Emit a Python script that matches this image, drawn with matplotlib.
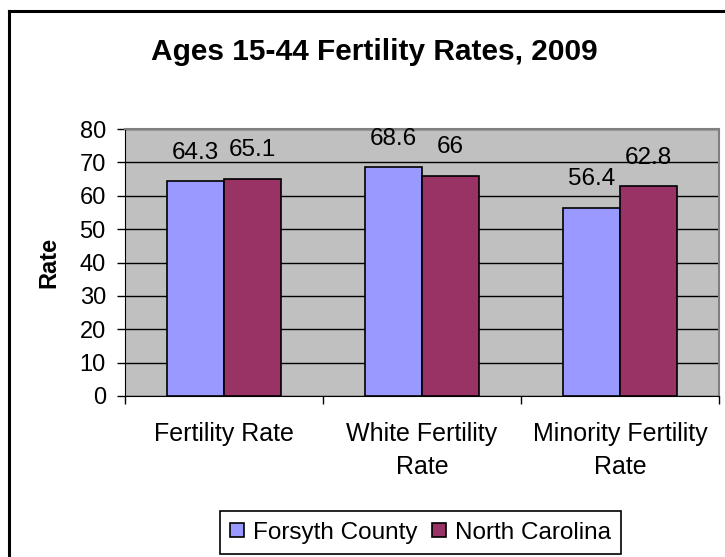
import numpy as np
import matplotlib
matplotlib.use("Agg")
import matplotlib.pyplot as plt
from matplotlib.lines import Line2D

plt.rcParams['font.family'] = ['Liberation Sans', 'DejaVu Sans']

categories = ["Fertility Rate", "White Fertility\nRate", "Minority Fertility\nRate"]
forsyth = [64.3, 68.6, 56.4]
nc = [65.1, 66, 62.8]
series_names = ["Forsyth County", "North Carolina"]
yticks = [0, 10, 20, 30, 40, 50, 60, 70, 80]

blue = "#9999FF"
maroon = "#993366"

fig = plt.figure(figsize=(7.25, 5.57), dpi=100)
ax = fig.add_axes([125/725, 1 - 396/557, (719 - 125)/725, (396 - 129)/557])
ax.set_facecolor("#C0C0C0")

x = np.arange(len(categories))
width = 0.288

b1 = ax.bar(x - width/2, forsyth, width, color=blue, edgecolor="black", linewidth=1.2, zorder=3)
b2 = ax.bar(x + width/2, nc, width, color=maroon, edgecolor="black", linewidth=1.2, zorder=3)

# data labels above bars
for bars, vals in [(b1, forsyth), (b2, nc)]:
    for rect, v in zip(bars, vals):
        ax.annotate(f"{v:g}", (rect.get_x() + rect.get_width()/2, v),
                    xytext=(0, 20.5), textcoords="offset points",
                    ha="center", va="center", fontsize=17.5, zorder=4)

ax.set_ylim(0, 80)
ax.set_xlim(-0.5, len(categories) - 0.5)
ax.set_yticks(yticks)
ax.set_yticklabels([str(t) for t in yticks], fontsize=17)
ax.yaxis.grid(True, color="black", linewidth=1.0, zorder=1)
ax.set_axisbelow(True)
ax.tick_params(axis="y", direction="out", length=5.8, width=1, pad=8)

ax.set_xticks(x)
ax.set_xticklabels(categories, fontsize=18, linespacing=1.5)
ax.tick_params(axis="x", which="major", length=0, pad=18.5)
ax.set_xticks(np.arange(len(categories) + 1) - 0.5, minor=True)
ax.tick_params(axis="x", which="minor", direction="out", length=5.8, width=1)

for side in ["top", "right"]:
    ax.spines[side].set_color("#808080")
    ax.spines[side].set_linewidth(1.5)
ax.spines["left"].set_color("black")
ax.spines["bottom"].set_color("black")

ax.set_ylabel("Rate", fontsize=17, fontweight="bold")
ax.yaxis.set_label_coords((60 - 125)/594, 0.5)

fig.text(374/725, 1 - 52.5/557, "Ages 15-44 Fertility Rates, 2009",
         ha="center", va="center", fontsize=21.5, fontweight="bold")

handles = [Line2D([], [], marker="s", linestyle="none", markersize=10,
                  markerfacecolor=c, markeredgecolor="black", markeredgewidth=1.2)
           for c in (blue, maroon)]
leg = fig.legend(handles, series_names, loc="center", ncol=2,
                 bbox_to_anchor=(420.5/725, 1 - 532.5/557), fontsize=17.5,
                 frameon=True, fancybox=False, framealpha=1, edgecolor="black",
                 handlelength=0.6, handletextpad=0.35, columnspacing=0.6,
                 borderpad=0.42, borderaxespad=0)
leg.get_frame().set_linewidth(1.2)

# outer chart border (left and top edges visible)
fig.add_artist(Line2D([9/725, 9/725], [0, 1 - 11/557], transform=fig.transFigure,
                      color="black", linewidth=2.2))
fig.add_artist(Line2D([9/725, 1], [1 - 11/557, 1 - 11/557], transform=fig.transFigure,
                      color="black", linewidth=2.2))

fig.savefig("out.png", dpi=100)
